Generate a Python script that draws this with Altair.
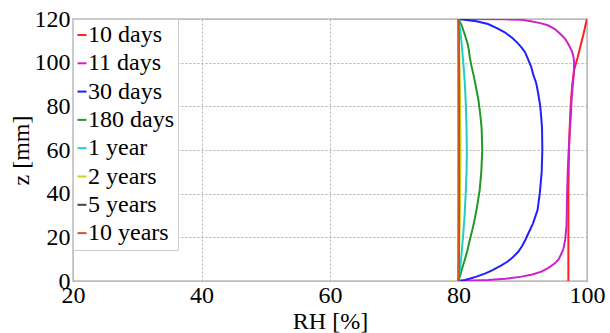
import altair as alt
import pandas as pd

series = ["10 days", "11 days", "30 days", "180 days", "1 year", "2 years", "5 years", "10 years"]
colors = ["#ff2020", "#cc22cc", "#2020ff", "#229922", "#22cccc", "#cccc22", "#444444", "#d2581e"]

red_z = [0, 20, 40, 50, 60, 70, 80, 90, 96.7, 102.5, 106, 110.1, 113, 115, 117, 118.5, 120]
red_rh = [97.1, 97.1, 97.1, 97.15, 97.2, 97.3, 97.45, 97.7, 98.0, 98.55, 98.85, 99.2, 99.45, 99.6, 99.75, 99.87, 100.0]

mag_z = [0, 0.5, 1, 2, 3, 4.3, 6, 8.1, 10, 12.7, 15, 18.8, 25, 30, 40, 50, 60, 70, 76, 80, 85, 90, 95, 100,
         102.5, 105, 107, 109, 110.9, 113, 115.4, 117, 118, 119, 119.6, 119.85, 120]
mag_rh = [80, 84.6, 87.3, 89.8, 91.5, 92.9, 94.0, 95.0, 95.6, 96.05, 96.35, 96.6, 96.8, 96.85, 96.9, 97.0, 97.15,
          97.35, 97.5, 97.55, 97.65, 97.8, 97.95, 98.0, 97.9, 97.7, 97.35, 97.0, 96.6, 95.9, 95.0, 94.0, 92.9,
          91.3, 89.8, 87.0, 80]

blue_z = [0, 0.5, 1, 2, 3.5, 5, 7, 8.8, 11, 13.4, 16, 18.8, 22, 26.4, 32.5, 40, 50, 60, 70, 76, 80.6, 86, 90.6,
          94.4, 98.2, 101.7, 104.8, 107, 109.3, 111.5, 113.9, 115.5, 117.7, 119, 120]
blue_rh = [80, 81.0, 81.7, 82.8, 84.2, 85.3, 86.6, 87.6, 88.5, 89.3, 89.9, 90.4, 90.9, 91.6, 92.3, 92.65, 92.95,
           93.05, 93.0, 92.85, 92.7, 92.4, 92.1, 91.65, 91.3, 90.8, 90.35, 89.8, 89.1, 88.3, 87.2, 86.2, 84.6,
           82.8, 80]

green_z = [0, 3, 6.6, 10, 14.2, 18.8, 23.4, 28, 32.5, 41.7, 50, 60, 70, 76, 82.9, 89.8, 93.6, 98, 102.5, 106,
           108.9, 113.1, 117, 120]
green_rh = [80, 80.3, 80.65, 81.0, 81.4, 81.75, 82.15, 82.5, 82.8, 83.3, 83.55, 83.7, 83.6, 83.4, 83.1, 82.65,
            82.4, 82.05, 81.75, 81.6, 81.4, 80.95, 80.5, 80]

cyan_z = [0, 5, 10, 20, 30, 41.7, 50, 60, 70, 80, 90, 100, 110, 115, 120]
cyan_rh = [80, 80.2, 80.4, 80.7, 80.95, 81.15, 81.25, 81.3, 81.25, 81.15, 81.0, 80.75, 80.45, 80.25, 80]

yel_z = [0, 10, 20, 30, 40, 50, 60, 70, 80, 90, 100, 110, 120]
yel_rh = [80, 80.08, 80.15, 80.21, 80.26, 80.29, 80.3, 80.29, 80.26, 80.21, 80.15, 80.08, 80]

gray_z = [0, 20, 40, 60, 80, 100, 120]
gray_rh = [80, 80.03, 80.045, 80.05, 80.045, 80.03, 80]

brown_z = [0, 120]
brown_rh = [80, 80]

all_z = [red_z, mag_z, blue_z, green_z, cyan_z, yel_z, gray_z, brown_z]
all_rh = [red_rh, mag_rh, blue_rh, green_rh, cyan_rh, yel_rh, gray_rh, brown_rh]

rows = []
for s, zs, rhs in zip(series, all_z, all_rh):
    for z, rh in zip(zs, rhs):
        rows.append({"series": s, "z": z, "RH": rh})
df = pd.DataFrame(rows)

FONT = "Liberation Serif, DejaVu Serif, serif"

chart = alt.Chart(df).mark_line(strokeWidth=2, clip=True).encode(
    x=alt.X("RH:Q", title="RH [%]",
            scale=alt.Scale(domain=[20, 100], nice=False, zero=False),
            axis=alt.Axis(values=[20, 40, 60, 80, 100], labelPadding=2, titlePadding=2,
                          labelFlush=False, labelOverlap=False)),
    y=alt.Y("z:Q", title="z [mm]",
            scale=alt.Scale(domain=[0, 120], nice=False),
            axis=alt.Axis(values=[0, 20, 40, 60, 80, 100, 120], labelPadding=3, titlePadding=1,
                          labelFlush=False, labelOverlap=False)),
    color=alt.Color("series:N", sort=series,
                    scale=alt.Scale(domain=series, range=colors),
                    legend=alt.Legend(title=None, orient="none", legendX=0, legendY=0,
                                      symbolType="stroke", symbolSize=81, symbolStrokeWidth=2,
                                      labelFont=FONT, labelFontSize=24, labelColor="black",
                                      labelOffset={"expr": "-6"}, rowPadding=4.3, padding=4,
                                      strokeColor="#cccccc", fillColor="white",
                                      symbolOffset={"expr": "-7"})),
    order=alt.Order("z:Q"),
    detail="series:N",
).properties(
    width=514, height=262,
    autosize=alt.AutoSizeParams(type="none"),
    padding={"left": 73, "top": 19, "right": 23, "bottom": 52},
).configure(
    font=FONT
).configure_view(
    stroke="#cccccc", strokeWidth=2
).configure_axis(
    domain=False, ticks=False,
    grid=True, gridColor="#b0b0b0", gridDash=[2, 2], gridWidth=1,
    labelFont=FONT, labelFontSize=24, labelColor="black",
    titleFont=FONT, titleFontSize=24, titleColor="black", titleFontWeight="normal",
)

chart.save("out.html", embed_options={"renderer": "svg", "actions": False})
